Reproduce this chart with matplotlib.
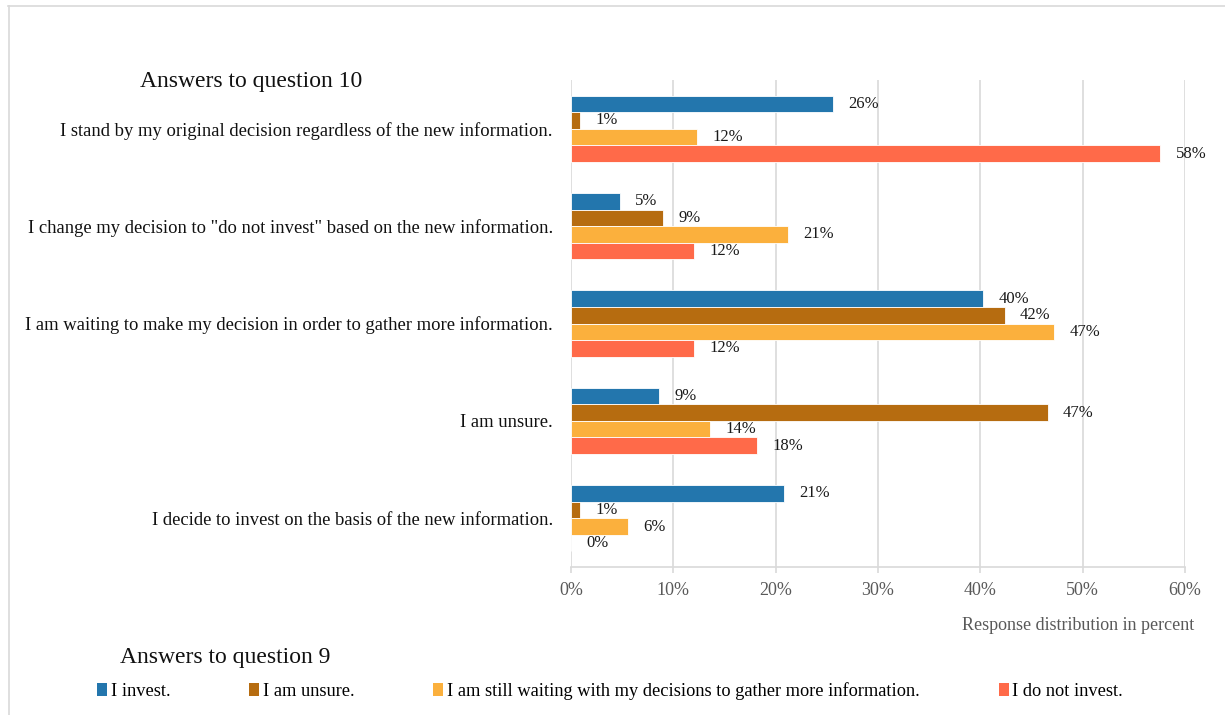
import matplotlib
matplotlib.use("Agg")
import matplotlib.pyplot as plt
from matplotlib.patches import Patch
from matplotlib.lines import Line2D
import numpy as np

plt.rcParams['font.family'] = ['Liberation Serif', 'DejaVu Serif']

# Answers to question 10 (top to bottom)
categories = [
    "I stand by my original decision regardless of the new information.",
    'I change my decision to "do not invest" based on the new information.',
    "I am waiting to make my decision in order to gather more information.",
    "I am unsure.",
    "I decide to invest on the basis of the new information.",
]

# Answers to question 9: share of respondents (percent)
series_names = [
    "I invest.",
    "I am unsure.",
    "I am still waiting with my decisions to gather more information.",
    "I do not invest.",
]
invest = [25.6, 4.8, 40.3, 8.6, 20.8]
unsure = [0.9, 9.0, 42.4, 46.6, 0.9]
waiting = [12.3, 21.2, 47.2, 13.6, 5.6]
not_invest = [57.6, 12.0, 12.0, 18.2, 0.0]

xticks = [0, 10, 20, 30, 40, 50, 60]

colors = ["#2376AD", "#B66C10", "#FBB03D", "#FF6A49"]
series = [invest, unsure, waiting, not_invest]

fig = plt.figure(figsize=(12.25, 7.15), dpi=100)
ax = fig.add_axes([0.4661, 0.207, 0.5012, 0.681])

y = np.arange(len(categories))
h = 0.17
for i, (vals, col) in enumerate(zip(series, colors)):
    pos = y + (i - 1.5) * h
    ax.barh(pos, vals, height=h, color=col, edgecolor="white",
            linewidth=0.6, zorder=3)
    for p, v in zip(pos, vals):
        ax.annotate(f"{v:.0f}%", xy=(v, p), xytext=(11, 0),
                    textcoords="offset points", ha="left", va="center",
                    fontsize=12, color="#1a1a1a", zorder=4)

ax.set_ylim(len(categories) - 0.5, -0.5)
ax.set_xlim(0, 60)
ax.set_xticks(xticks)
ax.set_xticklabels([f"{t}%" for t in xticks])
ax.set_yticks(y)
ax.set_yticklabels(categories, fontsize=13.4, color="#111111")

ax.grid(axis="x", color="#D9D9D9", linewidth=1.2, zorder=0)
for s in ["top", "right", "left"]:
    ax.spines[s].set_visible(False)
ax.spines["bottom"].set_color("#D9D9D9")
ax.spines["bottom"].set_linewidth(1.2)
ax.tick_params(axis="x", colors="#D9D9D9", width=1.2, length=4,
               labelcolor="#595959", labelsize=13, pad=7)
ax.tick_params(axis="y", length=0, pad=13)

fig.text(0.205, 0.886, "Answers to question 10", ha="center", va="center",
         fontsize=17, color="#111111")
fig.text(0.975, 0.125, "Response distribution in percent", ha="right",
         va="center", fontsize=13, color="#595959")
fig.text(0.098, 0.080, "Answers to question 9", ha="left", va="center",
         fontsize=17, color="#111111")

handles = [Patch(facecolor=c, edgecolor="none") for c in colors]
fig.legend(handles, series_names, loc="center left",
           bbox_to_anchor=(0.079, 0.034), ncol=4, frameon=False,
           fontsize=13.2, handlelength=0.55, handleheight=0.75,
           handletextpad=0.2, columnspacing=4.3, borderaxespad=0,
           borderpad=0)

# thin frame along the top and left edges
fig.add_artist(Line2D([0.0065, 1.0], [0.9916, 0.9916], color="#D9D9D9",
                      linewidth=1.2, transform=fig.transFigure))
fig.add_artist(Line2D([0.0073, 0.0073], [0.0, 0.9916], color="#D9D9D9",
                      linewidth=1.2, transform=fig.transFigure))

fig.savefig("out.png", dpi=100, facecolor="white")
